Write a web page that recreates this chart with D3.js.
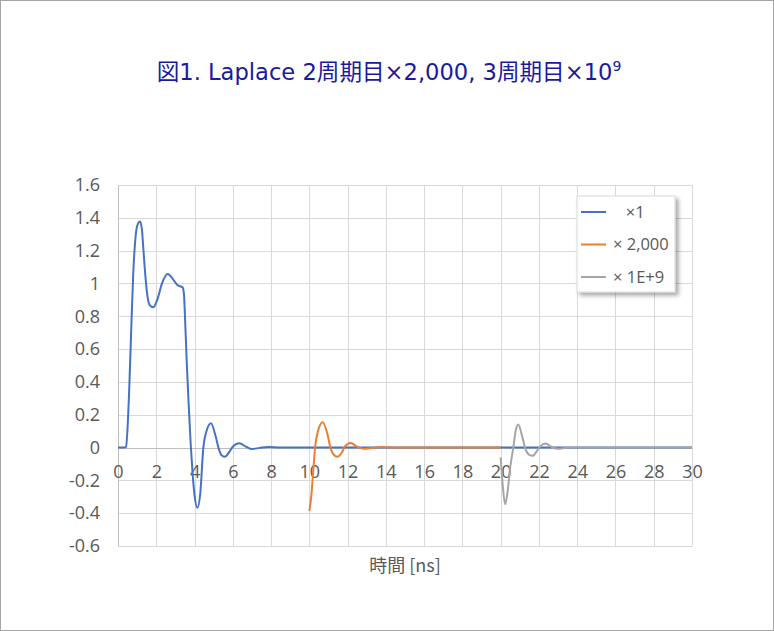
<!DOCTYPE html>
<meta charset="utf-8"/>
<head>
<script src="https://d3js.org/d3.v7.min.js"></script>
<style>
body { margin: 0; background: #fff; }
svg { display: block; background: #fff; }
.grid line { stroke: #d9d9d9; stroke-width: 1px; shape-rendering: crispEdges; }
.series { fill: none; stroke-width: 2px; stroke-linejoin: round; }
.legend text { fill: #595959; font-family: "Open Sans", "Noto Sans", sans-serif; font-size: 16.5px; }
</style>
</head>
<body>
<div id="chart"></div>
<script type="text/javascript">

// chart values
var titleText = "図1. Laplace 2周期目×2,000, 3周期目×10";
var titleSup = "9";
var xLabel = "時間 [ns]";
var xTicks = d3.range(0, 31, 2);
var yTicks = [-0.6, -0.4, -0.2, 0, 0.2, 0.4, 0.6, 0.8, 1, 1.2, 1.4, 1.6];
var legendNames = ["   ×1", "× 2,000", "× 1E+9"];

// [time ns, value]
var cycle1 = [
  [0, 0], [0.35, 0], [0.42, 0.005], [0.5, 0.12], [0.6, 0.4], [0.7, 0.75], [0.8, 1.07],
  [0.9, 1.26], [1.0, 1.35], [1.15, 1.378], [1.25, 1.33], [1.32, 1.22], [1.4, 1.09],
  [1.5, 0.96], [1.65, 0.87], [1.85, 0.855], [2.05, 0.9], [2.3, 1.0], [2.6, 1.057],
  [2.85, 1.03], [3.1, 0.99], [3.38, 0.975], [3.45, 0.93], [3.5, 0.8], [3.6, 0.5],
  [3.7, 0.25], [3.8, 0.02], [3.9, -0.16], [4.0, -0.29], [4.15, -0.367], [4.3, -0.28],
  [4.46, 0], [4.6, 0.09], [4.86, 0.148], [5.1, 0.07], [5.25, 0], [5.4, -0.045],
  [5.59, -0.056], [5.8, -0.03], [6.0, 0.005], [6.34, 0.026], [6.7, 0.005], [7.0, -0.009],
  [7.4, -0.002], [7.85, 0.004], [8.5, 0], [9.5, 0], [30, 0]
];
var cycle2 = [
  [10.0, -0.386], [10.1, -0.3], [10.2, -0.15], [10.3, 0], [10.45, 0.1], [10.7, 0.154],
  [10.95, 0.08], [11.1, 0], [11.25, -0.04], [11.46, -0.056], [11.7, -0.03], [11.85, 0.005],
  [12.16, 0.027], [12.5, 0.005], [12.85, -0.008], [13.3, -0.002], [13.7, 0.003],
  [14.4, 0], [20, 0]
];
var cycle3 = [
  [20.0, -0.06], [20.1, -0.22], [20.23, -0.345], [20.35, -0.28], [20.5, -0.12],
  [20.66, 0], [20.78, 0.1], [20.92, 0.141], [21.1, 0.08], [21.3, -0.01], [21.5, -0.045],
  [21.68, -0.05], [21.9, -0.02], [22.05, 0.005], [22.35, 0.025], [22.65, 0.005],
  [23.0, -0.008], [23.4, -0.002], [23.8, 0.002], [24.5, 0], [30, 0]
];
var colors = ["#4472C4", "#ED7D31", "#A5A5A5"];

var outerWidth = 774, outerHeight = 631;
var margin = { top: 185, right: 82, bottom: 85, left: 118 },
    width = 692 - margin.left,
    height = 546 - margin.top;

var svg = d3.select("#chart").append("svg")
    .attr("width", outerWidth)
    .attr("height", outerHeight);

var defs = svg.append("defs");
defs.append("filter").attr("id", "shadow")
    .attr("x", "-20%").attr("y", "-20%").attr("width", "150%").attr("height", "150%")
  .append("feDropShadow")
    .attr("dx", 3).attr("dy", 3).attr("stdDeviation", 2)
    .attr("flood-color", "#000").attr("flood-opacity", 0.35);

// outer frame
svg.append("rect")
    .attr("x", 0.5).attr("y", 0.5)
    .attr("width", outerWidth - 1).attr("height", outerHeight - 1)
    .attr("fill", "none").attr("stroke", "#a6a6a6");

var title = svg.append("text")
    .attr("x", 389).attr("y", 80)
    .attr("text-anchor", "middle")
    .style("font-family", "'DejaVu Sans', 'Noto Sans CJK JP', sans-serif")
    .style("font-size", "22.6px")
    .style("fill", "#1a1aa0")
    .text(titleText);
title.append("tspan").attr("dy", -9).style("font-size", "14px").text(titleSup);

var g = svg.append("g")
    .attr("transform", "translate(" + margin.left + "," + margin.top + ")");

var x = d3.scaleLinear().domain([0, 30]).range([0, width]);
var y = d3.scaleLinear().domain([-0.6, 1.6]).range([height, 0]);

// grid
var grid = g.append("g").attr("class", "grid");
grid.selectAll(".h").data(yTicks).enter().append("line")
    .attr("x1", 0).attr("x2", width)
    .attr("y1", function(d) { return Math.round(y(d)) + 0.5; })
    .attr("y2", function(d) { return Math.round(y(d)) + 0.5; });
grid.selectAll(".v").data(xTicks.filter(function(d) { return d > 0; })).enter().append("line")
    .attr("y1", 0).attr("y2", height)
    .attr("x1", function(d) { return Math.round(x(d)) + 0.5; })
    .attr("x2", function(d) { return Math.round(x(d)) + 0.5; });

// axis lines
g.append("line")
    .attr("x1", 0.5).attr("x2", 0.5).attr("y1", 0).attr("y2", height)
    .attr("stroke", "#bfbfbf").style("shape-rendering", "crispEdges");
g.append("line")
    .attr("x1", 0).attr("x2", width)
    .attr("y1", Math.round(y(0)) + 0.5).attr("y2", Math.round(y(0)) + 0.5)
    .attr("stroke", "#bfbfbf").style("shape-rendering", "crispEdges");

function styleTicks(s) {
  s.select(".domain").remove();
  s.attr("font-size", null).attr("font-family", null);
  s.selectAll(".tick text")
      .style("font-family", "'Open Sans', 'Noto Sans', sans-serif")
      .style("font-size", "18px")
      .style("fill", "#595959");
}

// y axis labels (plain hyphen minus like the original)
var yAxis = d3.axisLeft(y).tickValues(yTicks).tickSize(0).tickPadding(18)
    .tickFormat(function(d) { return String(+d.toFixed(1)); });
g.append("g").call(yAxis).call(styleTicks);

// x axis labels at the zero line
var xAxis = d3.axisBottom(x).tickValues(xTicks).tickSize(0).tickPadding(18)
    .tickFormat(function(d) { return String(d); });
g.append("g")
    .attr("transform", "translate(0," + y(0) + ")")
    .call(xAxis)
    .call(styleTicks);

// series
var line = d3.line()
    .x(function(d) { return x(d[0]); })
    .y(function(d) { return y(d[1]); })
    .curve(d3.curveMonotoneX);

[cycle1, cycle2, cycle3].forEach(function(s, i) {
  g.append("path")
      .datum(s)
      .attr("class", "series")
      .attr("stroke", colors[i])
      .attr("d", line);
});

// x title
svg.append("text")
    .attr("x", margin.left + width / 2).attr("y", 572)
    .attr("text-anchor", "middle")
    .style("font-family", "'Noto Sans CJK JP', sans-serif")
    .style("font-size", "18px")
    .style("fill", "#595959")
    .text(xLabel);

// legend
var legend = svg.append("g").attr("class", "legend")
    .attr("transform", "translate(577,196)");
legend.append("rect")
    .attr("width", 98).attr("height", 96)
    .attr("fill", "#fff").attr("stroke", "#d9d9d9")
    .attr("filter", "url(#shadow)");
legendNames.forEach(function(name, i) {
  var ly = 16 + i * 32.5;
  legend.append("line")
      .attr("x1", 4).attr("x2", 29).attr("y1", ly).attr("y2", ly)
      .attr("stroke", colors[i]).attr("stroke-width", 2);
  legend.append("text")
      .attr("x", 36).attr("y", ly).attr("dy", "0.35em")
      .style("white-space", "pre")
      .attr("xml:space", "preserve")
      .text(name);
});

</script>
</body>
